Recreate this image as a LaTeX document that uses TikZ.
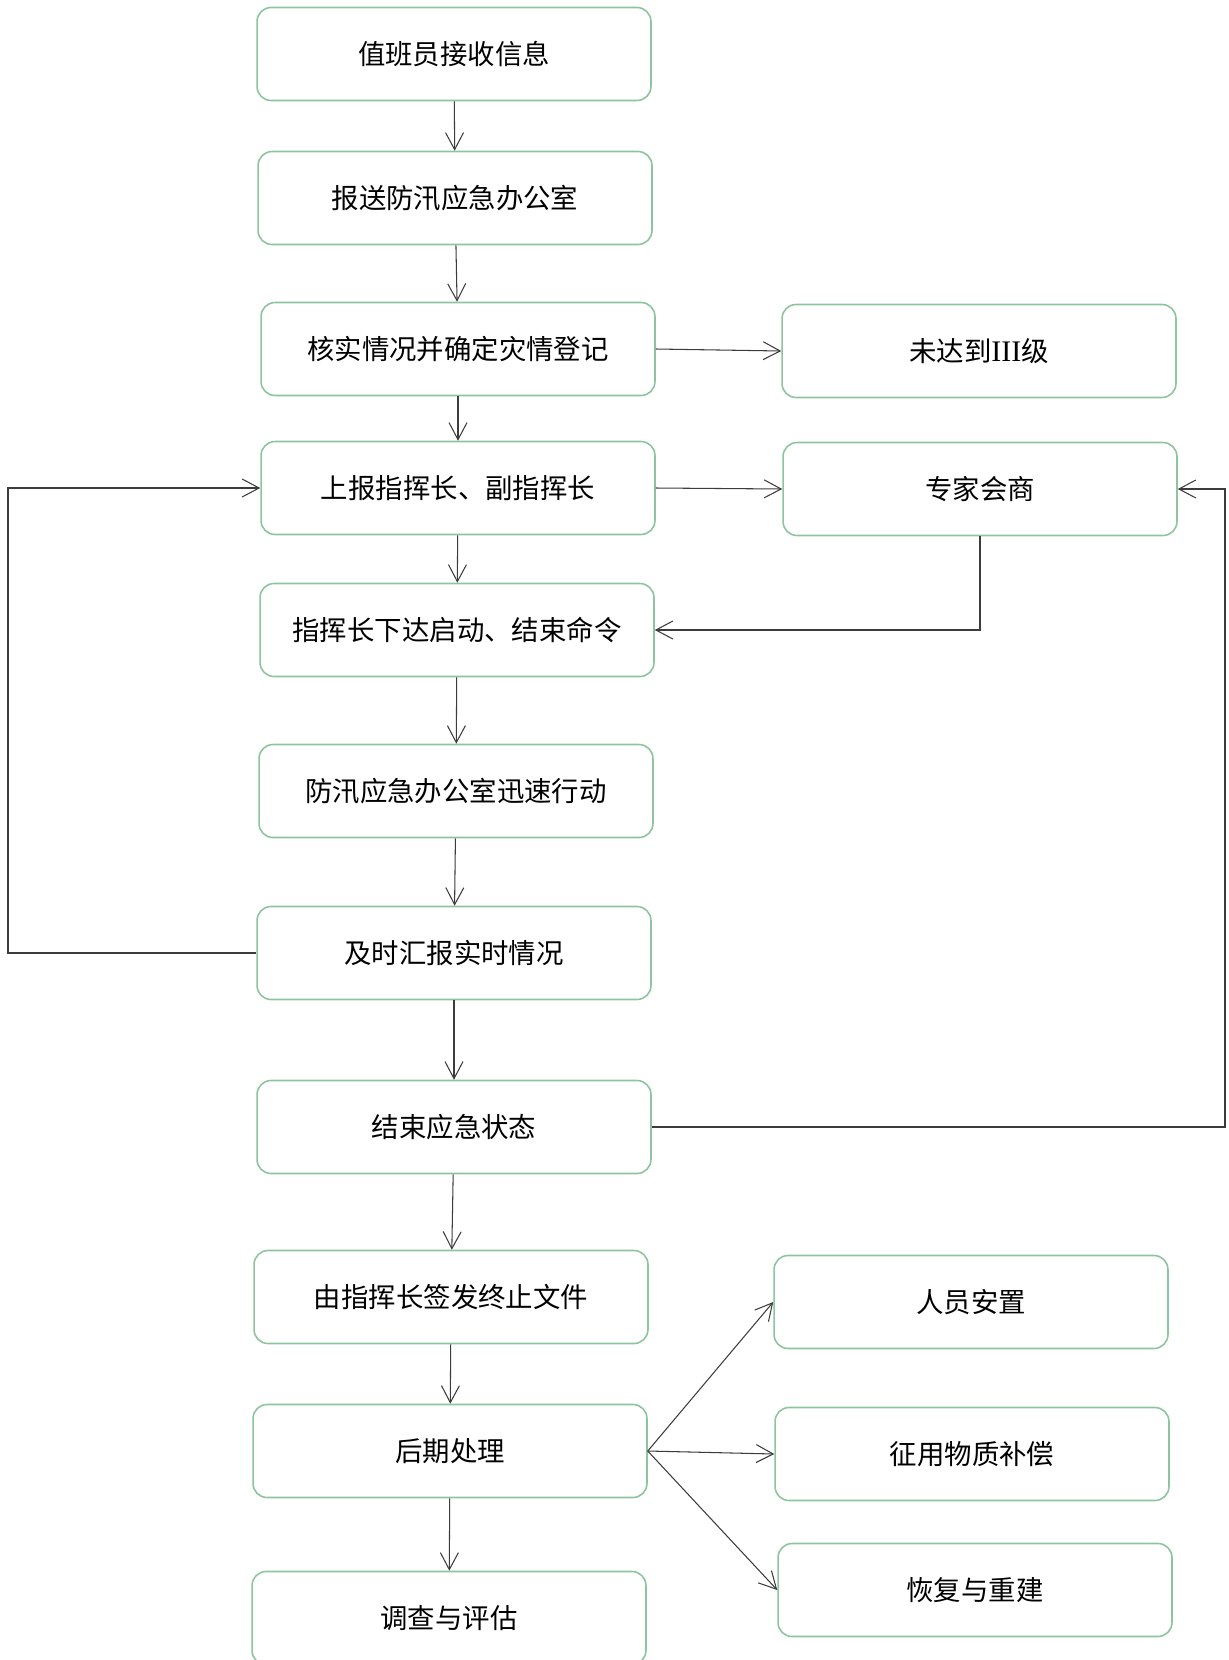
\documentclass[tikz,border=0pt]{standalone}
\usepackage{fontspec}
\setmainfont{Noto Sans CJK SC}
\newfontfamily\latinserif{Liberation Serif}
\usetikzlibrary{arrows.meta}
\definecolor{boxgreen}{RGB}{140,196,160}
\definecolor{linegray}{RGB}{60,60,60}

\begin{document}
\begin{tikzpicture}[x=0.02cm, y=-0.02cm,
    flowbox/.style={draw=boxgreen, line width=0.9pt, rounded corners=0.28cm,
        minimum width=7.88cm, minimum height=1.86cm, inner sep=0pt,
        font=\fontsize{15.6}{18}\selectfont},
    link/.style={draw=linegray, line width=0.6pt,
        -{Straight Barb[length=0.34cm, width=0.36cm]}}]
    \clip (0,0) rectangle (1229,1660);

    % main column
    \node (b1) [flowbox] at (454,54) {值班员接收信息};
    \node (b2) [flowbox] at (455,198) {报送防汛应急办公室};
    \node (b3) [flowbox] at (458,349) {核实情况并确定灾情登记};
    \node (b4) [flowbox] at (458,488) {上报指挥长、副指挥长};
    \node (b5) [flowbox] at (457,630) {指挥长下达启动、结束命令};
    \node (b6) [flowbox] at (456,791) {防汛应急办公室迅速行动};
    \node (b7) [flowbox] at (454,953) {及时汇报实时情况};
    \node (b8) [flowbox] at (454,1127) {结束应急状态};
    \node (b9) [flowbox] at (451,1297) {由指挥长签发终止文件};
    \node (b10) [flowbox] at (450,1451) {后期处理};
    \node (b11) [flowbox] at (449,1618) {调查与评估};

    % side column
    \node (r1) [flowbox] at (979,351) {未达到{\latinserif\fontsize{17}{18}\selectfont III}级};
    \node (r2) [flowbox] at (980,489) {专家会商};
    \node (r3) [flowbox] at (971,1302) {人员安置};
    \node (r4) [flowbox] at (972,1454) {征用物质补偿};
    \node (r5) [flowbox] at (975,1590) {恢复与重建};

    \coordinate (loopL) at (8,953);
    \coordinate (loopR) at (1225,1127);

    \draw[link] (b1) -- (b2);
    \draw[link] (b2) -- (b3);
    \draw[link] (b3) -- (b4);
    \draw[link] (b4) -- (b5);
    \draw[link] (b5) -- (b6);
    \draw[link] (b6) -- (b7);
    \draw[link] (b7) -- (b8);
    \draw[link] (b8) -- (b9);
    \draw[link] (b9) -- (b10);
    \draw[link] (b10) -- (b11);

    \draw[link] (b3.east) -- (r1.west);
    \draw[link] (b4.east) -- (r2.west);
    \draw[link] (r2.south) |- (b5.east);
    \draw[link] (b7.west) -- (loopL) |- (b4.west);
    \draw[link] (b8.east) -- (loopR) |- (r2.east);

    \draw[link] (b10.east) -- (r3.west);
    \draw[link] (b10.east) -- (r4.west);
    \draw[link] (b10.east) -- (r5.west);
\end{tikzpicture}
\end{document}
